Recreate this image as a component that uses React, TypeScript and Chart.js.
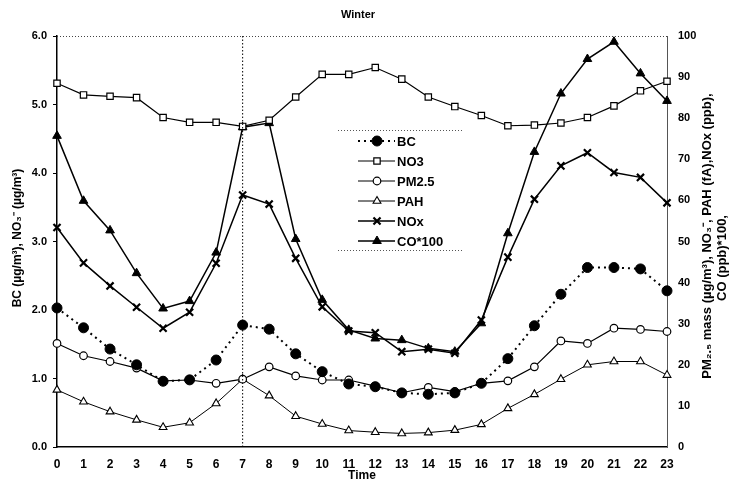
import React, { useEffect, useRef } from "react";
import { Chart, registerables } from "chart.js";
import { drawPoint } from "chart.js/helpers";

Chart.register(...registerables);

const hours = ["0","1","2","3","4","5","6","7","8","9","10","11","12","13","14","15","16","17","18","19","20","21","22","23"];

const bc = [2.03,1.74,1.43,1.20,0.96,0.98,1.27,1.78,1.72,1.36,1.10,0.92,0.88,0.79,0.77,0.79,0.93,1.29,1.77,2.23,2.62,2.62,2.60,2.28];
const no3 = [5.31,5.14,5.12,5.10,4.81,4.74,4.74,4.68,4.77,5.11,5.44,5.44,5.54,5.37,5.11,4.97,4.84,4.69,4.70,4.73,4.81,4.98,5.20,5.34];
const pm25 = [25.2,22.2,20.8,19.2,16.1,16.3,15.5,16.5,19.5,17.3,16.3,16.3,14.8,13.2,14.5,13.5,15.5,16.1,19.5,25.8,25.2,28.9,28.6,28.1];
const pah = [13.9,11.0,8.6,6.6,4.8,5.9,10.6,16.5,12.5,7.5,5.6,4.0,3.6,3.3,3.5,4.1,5.5,9.4,12.8,16.5,20.0,20.8,20.8,17.5];
const nox = [53.4,44.8,39.2,34.0,28.9,32.8,44.7,61.3,59.1,45.9,34.1,28.2,27.8,23.2,23.8,22.8,30.9,46.2,60.3,68.4,71.6,66.8,65.6,59.4];
const co100 = [75.7,59.9,52.7,42.3,33.7,35.5,47.3,77.8,78.8,50.6,35.8,28.5,26.4,26.0,24.0,23.2,30.1,52.0,71.8,86.0,94.4,98.6,90.9,84.2];

const leftTicksMax = 6;
const rightTicksMax = 100;
const markerHour = "7";

const chartTitle = "Winter";
const xTitle = "Time";
const leftTitle = "BC (µg/m³), NO₃⁻ (µg/m³)";
const rightTitle1 = "PM₂.₅ mass (µg/m³), NO₃⁻, PAH (fA),NOx (ppb),";
const rightTitle2 = "CO (ppb)*100,";

const FONT = "'Liberation Sans', Arial, Helvetica, sans-serif";

export default function App() {
  const ref = useRef<HTMLCanvasElement>(null);

  useEffect(() => {
    const canvas = ref.current;
    if (!canvas) return;

    const black = "#000";

    const series = [
      { label: "BC", data: bc, yAxisID: "y", pointStyle: "circle", radius: 5, fill: black, dash: [2, 4], lw: 2, pbw: 1 },
      { label: "NO3", data: no3, yAxisID: "y", pointStyle: "rect", radius: 4.5, fill: "#fff", dash: [], lw: 1.2, pbw: 1.2 },
      { label: "PM2.5", data: pm25, yAxisID: "y1", pointStyle: "circle", radius: 3.8, fill: "#fff", dash: [], lw: 1.2, pbw: 1.2 },
      { label: "PAH", data: pah, yAxisID: "y1", pointStyle: "triangle", radius: 4.5, fill: "#fff", dash: [], lw: 1, pbw: 1.1 },
      { label: "NOx", data: nox, yAxisID: "y1", pointStyle: "crossRot", radius: 5, fill: black, dash: [], lw: 1.5, pbw: 2.2 },
      { label: "CO*100", data: co100, yAxisID: "y1", pointStyle: "triangle", radius: 5, fill: black, dash: [], lw: 1.5, pbw: 1 },
    ];

    const decor = {
      id: "decor",
      afterDraw(chart: any) {
        const { ctx, chartArea } = chart;
        const { left, right, top, bottom } = chartArea;
        ctx.save();
        ctx.strokeStyle = "#444";
        ctx.lineWidth = 1;
        ctx.setLineDash([1, 2]);
        ctx.beginPath();
        ctx.moveTo(left, top + 0.5);
        ctx.lineTo(right, top + 0.5);
        ctx.stroke();
        const xs = chart.scales.x;
        const vx = xs.getPixelForValue(hours.indexOf(markerHour));
        ctx.strokeStyle = "#000";
        ctx.setLineDash([1.5, 2]);
        ctx.beginPath();
        ctx.moveTo(vx, top);
        ctx.lineTo(vx, bottom);
        ctx.stroke();
        ctx.setLineDash([]);

        ctx.fillStyle = "#000";
        ctx.textAlign = "center";
        ctx.textBaseline = "middle";
        ctx.font = `bold 11px ${FONT}`;
        ctx.fillText(chartTitle, 358, 15);
        ctx.font = `bold 12px ${FONT}`;
        ctx.fillText(xTitle, (left + right) / 2, 476);

        ctx.save();
        ctx.translate(18, 238);
        ctx.rotate(-Math.PI / 2);
        ctx.font = `bold 12px ${FONT}`;
        ctx.fillText(leftTitle, 0, 0);
        ctx.restore();

        ctx.save();
        ctx.translate(707, 236);
        ctx.rotate(-Math.PI / 2);
        ctx.font = `bold 13px ${FONT}`;
        ctx.fillText(rightTitle1, 0, 0);
        ctx.restore();

        ctx.save();
        ctx.translate(722, 258);
        ctx.rotate(-Math.PI / 2);
        ctx.font = `bold 13px ${FONT}`;
        ctx.fillText(rightTitle2, 0, 0);
        ctx.restore();

        const lx0 = 338, lx1 = 462;
        const ly0 = 130, ly1 = 250;
        ctx.strokeStyle = "#555";
        ctx.lineWidth = 1;
        ctx.setLineDash([1, 2]);
        ctx.beginPath();
        ctx.moveTo(lx0, ly0 + 0.5);
        ctx.lineTo(lx1, ly0 + 0.5);
        ctx.moveTo(lx0, ly1 + 0.5);
        ctx.lineTo(lx1, ly1 + 0.5);
        ctx.stroke();
        ctx.setLineDash([]);

        const sx0 = 358, sx1 = 395, mx = 377;
        ctx.textAlign = "left";
        ctx.font = `bold 13px ${FONT}`;
        series.forEach((s, i) => {
          const y = 141 + i * 20;
          ctx.strokeStyle = black;
          ctx.lineWidth = s.lw;
          ctx.setLineDash(s.dash);
          ctx.beginPath();
          ctx.moveTo(sx0, y);
          ctx.lineTo(sx1, y);
          ctx.stroke();
          ctx.setLineDash([]);
          ctx.fillStyle = s.fill;
          ctx.strokeStyle = black;
          ctx.lineWidth = s.pbw;
          drawPoint(ctx, { pointStyle: s.pointStyle, radius: s.radius, rotation: 0, borderWidth: s.pbw }, mx, y);
          ctx.fillStyle = black;
          ctx.fillText(s.label, 397, y + 1);
        });
        ctx.restore();
      },
    };

    const chart = new Chart(canvas, {
      type: "line",
      data: {
        labels: hours,
        datasets: series.map((s) => ({
          label: s.label,
          data: s.data,
          yAxisID: s.yAxisID,
          borderColor: black,
          borderWidth: s.lw,
          borderDash: s.dash,
          backgroundColor: s.fill,
          pointBackgroundColor: s.fill,
          pointBorderColor: black,
          pointBorderWidth: s.pbw,
          pointStyle: s.pointStyle as any,
          pointRadius: s.radius,
          tension: 0,
          fill: false,
        })),
      },
      options: {
        responsive: false,
        animation: false,
        events: [],
        layout: { padding: { top: 36, left: 0, right: 0, bottom: 0 } },
        plugins: {
          legend: { display: false },
          tooltip: { enabled: false },
          title: { display: false },
        },
        scales: {
          x: {
            type: "category",
            offset: false,
            grid: { display: false, drawTicks: false },
            border: { display: true, color: "#000", width: 1.5 },
            ticks: {
              color: "#000",
              font: { family: FONT, size: 12, weight: "bold" },
              padding: 10,
              maxRotation: 0,
              autoSkip: false,
            },
            afterFit(scale: any) {
              scale.height = 38;
            },
          },
          y: {
            position: "left",
            min: 0,
            max: leftTicksMax,
            grid: { display: true, drawOnChartArea: false, tickLength: 4, color: "#000" },
            border: { display: true, color: "#000", width: 1.5 },
            ticks: {
              stepSize: 1,
              color: "#000",
              font: { family: FONT, size: 11, weight: "bold" },
              padding: 6,
              callback: (v: any) => Number(v).toFixed(1),
            },
            afterFit(scale: any) {
              scale.width = 57;
            },
          },
          y1: {
            position: "right",
            min: 0,
            max: rightTicksMax,
            grid: { display: false, drawOnChartArea: false, drawTicks: false },
            border: { display: true, color: "#555", width: 1, dash: [1, 2] },
            ticks: {
              stepSize: 10,
              color: "#000",
              font: { family: FONT, size: 11, weight: "bold" },
              padding: 11,
            },
            afterFit(scale: any) {
              scale.width = 63;
            },
          },
        },
      },
      plugins: [decor],
    });

    return () => chart.destroy();
  }, []);

  return (
    <div style={{ position: "absolute", left: 0, top: 0, width: 730, height: 485, background: "#fff" }}>
      <canvas ref={ref} width={730} height={485} style={{ display: "block", width: 730, height: 485 }} />
    </div>
  );
}
